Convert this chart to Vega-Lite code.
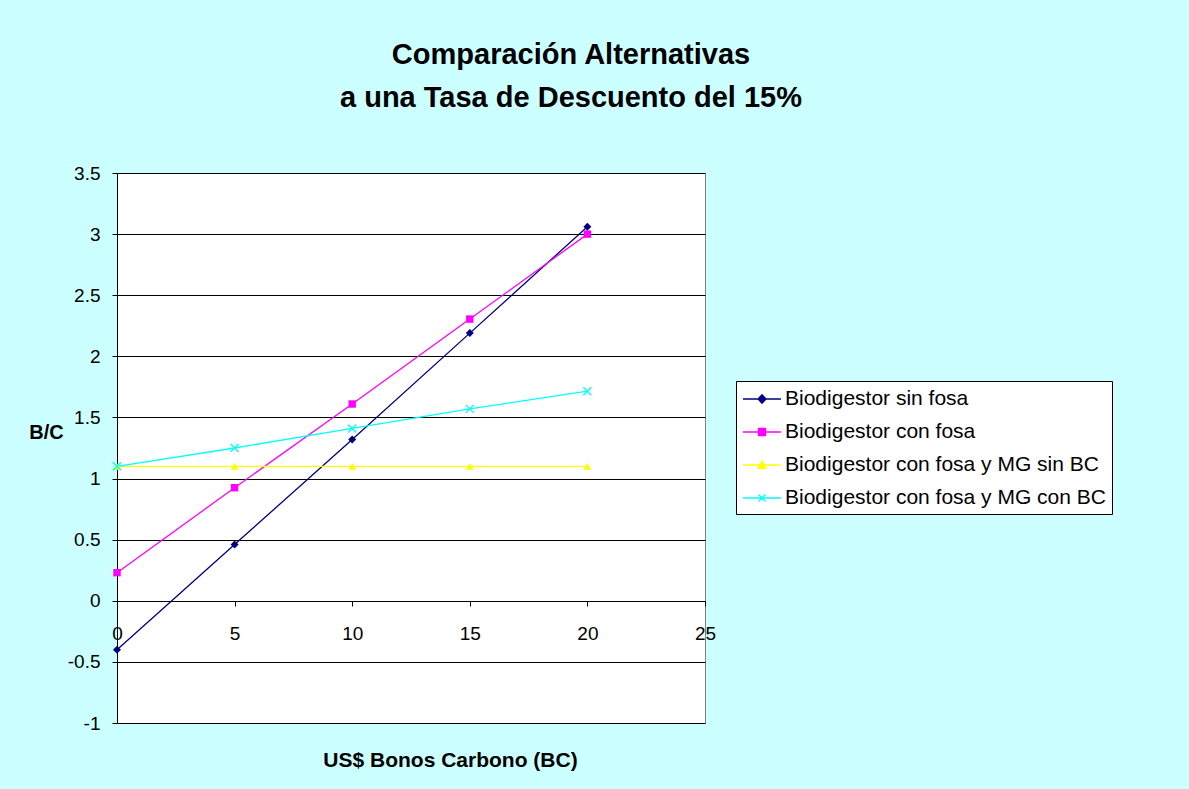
{
  "$schema": "https://vega.github.io/schema/vega-lite/v6.json",
  "autosize": "none",
  "width": 588,
  "height": 550,
  "padding": {"left": 117, "top": 173, "right": 484, "bottom": 66},
  "background": "#CCFFFF",
  "config": {
    "font": "Liberation Sans",
    "view": {"fill": "white", "stroke": "#808080", "strokeWidth": 1}
  },
  "title": {
    "text": ["Comparación Alternativas", "a una Tasa de Descuento del 15%"],
    "font": "Liberation Sans",
    "fontSize": 29,
    "fontWeight": "bold",
    "color": "black",
    "anchor": "middle",
    "dx": 160,
    "lineHeight": 43,
    "offset": 51
  },
  "data": {
    "values": [
      {"x": 0, "value": -0.4, "series": "Biodigestor sin fosa"},
      {"x": 5, "value": 0.46, "series": "Biodigestor sin fosa"},
      {"x": 10, "value": 1.32, "series": "Biodigestor sin fosa"},
      {"x": 15, "value": 2.19, "series": "Biodigestor sin fosa"},
      {"x": 20, "value": 3.06, "series": "Biodigestor sin fosa"},
      {"x": 0, "value": 0.23, "series": "Biodigestor con fosa"},
      {"x": 5, "value": 0.925, "series": "Biodigestor con fosa"},
      {"x": 10, "value": 1.61, "series": "Biodigestor con fosa"},
      {"x": 15, "value": 2.305, "series": "Biodigestor con fosa"},
      {"x": 20, "value": 3.0, "series": "Biodigestor con fosa"},
      {"x": 0, "value": 1.1, "series": "Biodigestor con fosa y MG sin BC"},
      {"x": 5, "value": 1.1, "series": "Biodigestor con fosa y MG sin BC"},
      {"x": 10, "value": 1.1, "series": "Biodigestor con fosa y MG sin BC"},
      {"x": 15, "value": 1.1, "series": "Biodigestor con fosa y MG sin BC"},
      {"x": 20, "value": 1.1, "series": "Biodigestor con fosa y MG sin BC"},
      {"x": 0, "value": 1.1, "series": "Biodigestor con fosa y MG con BC"},
      {"x": 5, "value": 1.25, "series": "Biodigestor con fosa y MG con BC"},
      {"x": 10, "value": 1.41, "series": "Biodigestor con fosa y MG con BC"},
      {"x": 15, "value": 1.57, "series": "Biodigestor con fosa y MG con BC"},
      {"x": 20, "value": 1.715, "series": "Biodigestor con fosa y MG con BC"}
    ]
  },
  "encoding": {
    "x": {
      "field": "x",
      "type": "quantitative",
      "scale": {"domain": [0, 25], "nice": false, "zero": false},
      "axis": {
        "title": "US$ Bonos Carbono (BC)",
        "titleFont": "Liberation Sans",
        "titleFontSize": 21,
        "titleFontWeight": "bold",
        "titleColor": "black",
        "titleX": 333,
        "titleY": 159,
        "titleAlign": "center",
        "titleBaseline": "middle",
        "values": [0, 5, 10, 15, 20, 25],
        "offset": -122,
        "grid": false,
        "domainColor": "black",
        "tickColor": "black",
        "tickSize": 5,
        "labelPadding": 18,
        "labelFontSize": 19,
        "labelColor": "black",
        "labelFlush": false,
        "labelOverlap": false
      }
    },
    "y": {
      "field": "value",
      "type": "quantitative",
      "scale": {"domain": [-1, 3.5], "nice": false, "zero": false},
      "axis": {
        "title": "B/C",
        "titleFont": "Liberation Sans",
        "titleFontSize": 20,
        "titleFontWeight": "bold",
        "titleColor": "black",
        "titleAngle": 0,
        "titleX": -71,
        "titleY": 259,
        "titleAlign": "center",
        "titleBaseline": "middle",
        "values": [-1, -0.5, 0, 0.5, 1, 1.5, 2, 2.5, 3, 3.5],
        "labelExpr": "'' + datum.value",
        "grid": true,
        "gridColor": "black",
        "gridWidth": 1,
        "gridOpacity": 1,
        "domainColor": "black",
        "tickColor": "black",
        "tickSize": 5,
        "labelPadding": 12,
        "labelFontSize": 19,
        "labelColor": "black"
      }
    }
  },
  "layer": [
    {
      "mark": {"type": "line", "strokeWidth": 1.3},
      "encoding": {
        "color": {
          "field": "series",
          "type": "nominal",
          "scale": {
            "domain": ["Biodigestor sin fosa", "Biodigestor con fosa", "Biodigestor con fosa y MG sin BC", "Biodigestor con fosa y MG con BC"],
            "range": ["#000080", "#FF00FF", "#FFFF00", "#00FFFF"]
          },
          "legend": {
            "title": null,
            "orient": "none",
            "legendX": 619,
            "legendY": 208,
            "fillColor": "white",
            "strokeColor": "black",
            "padding": 6,
            "labelFont": "Liberation Sans",
            "labelFontSize": 21,
            "labelColor": "black",
            "labelOffset": 19,
            "labelLimit": 500,
            "symbolSize": 484,
            "rowPadding": 11,
            "symbolStrokeWidth": 1.3,
            "encode": {
              "symbols": {
                "update": {
                  "shape": {"signal": "datum.value === 'Biodigestor sin fosa' ? 'M-1,0H2.45M0.37,0L0.73,-0.38L1.09,0L0.73,0.38Z' : datum.value === 'Biodigestor con fosa' ? 'M-1,0H2.45M0.41,-0.32H1.05V0.32H0.41Z' : datum.value === 'Biodigestor con fosa y MG sin BC' ? 'M-1,0H2.45M0.37,0.3L0.73,-0.36L1.09,0.3Z' : 'M-1,0H2.45M0.41,-0.32L1.05,0.32M0.41,0.32L1.05,-0.32'"},
                  "fill": {"signal": "scale('color', datum.value)"},
                  "stroke": {"signal": "scale('color', datum.value)"},
                  "fillOpacity": {"value": 1},
                  "strokeOpacity": {"value": 1},
                  "opacity": {"value": 1}
                }
              }
            }
          }
        }
      }
    },
    {
      "transform": [{"filter": "datum.series === 'Biodigestor con fosa y MG sin BC'"}],
      "mark": {"type": "point", "shape": "triangle-up", "filled": true, "color": "#FFFF00", "opacity": 1, "size": 60}
    },
    {
      "transform": [{"filter": "datum.series === 'Biodigestor con fosa'"}],
      "mark": {"type": "point", "shape": "square", "filled": true, "color": "#FF00FF", "opacity": 1, "size": 55}
    },
    {
      "transform": [{"filter": "datum.series === 'Biodigestor sin fosa'"}],
      "mark": {"type": "point", "shape": "diamond", "filled": true, "color": "#000080", "opacity": 1, "size": 64}
    },
    {
      "transform": [{"filter": "datum.series === 'Biodigestor con fosa y MG con BC'"}],
      "mark": {"type": "point", "shape": "M-1,-1L1,1M-1,1L1,-1", "filled": false, "color": "#00FFFF", "opacity": 1, "size": 64, "strokeWidth": 1.3}
    }
  ]
}
